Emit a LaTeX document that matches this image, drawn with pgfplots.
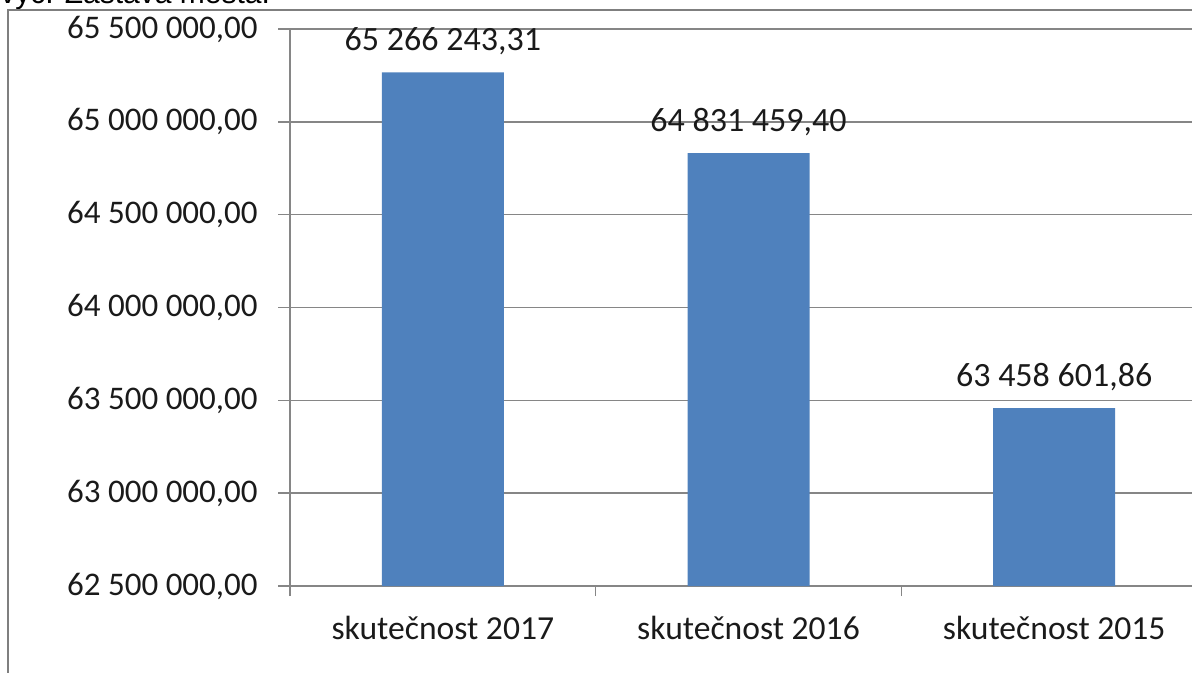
\documentclass[border=0pt]{standalone}
\usepackage{pgfplots}
\pgfplotsset{compat=1.18}
\usepackage{fontspec}
\setmainfont{Carlito}
\newfontfamily\arialfont{Liberation Sans}
\definecolor{barblue}{HTML}{4F81BD}
\definecolor{axgray}{HTML}{868686}
\definecolor{bordgray}{HTML}{7F7F7F}
\definecolor{txt}{HTML}{1A1A1A}
\begin{document}
\begin{tikzpicture}[x=1bp,y=1bp]
\useasboundingbox (0,0) rectangle (596,336);
\clip (0,0) rectangle (596,336);
\node[anchor=base west, inner sep=0, font=\arialfont\fontsize{15bp}{18bp}\selectfont] at (0,334.5) {vyč. Zástava města.};
\draw[color=bordgray, line width=1.3bp] (4,-10) -- (4,331) -- (800,331);
\begin{axis}[
  at={(145bp,43bp)}, anchor=south west, scale only axis,
  width=458.5bp, height=278.5bp,
  xmin=0, xmax=3, ymin=62500000, ymax=65500000,
  axis line style={color=axgray, line width=0.75bp},
  axis x line*=bottom, axis y line*=left,
  ymajorgrids, grid style={color=axgray, line width=0.75bp},
  ytick={62500000,63000000,63500000,64000000,64500000,65000000,65500000},
  yticklabels={{62 500 000,00},{63 000 000,00},{63 500 000,00},{64 000 000,00},{64 500 000,00},{65 000 000,00},{65 500 000,00}},
  xtick={0.5,1.5,2.5},
  xticklabels={{skutečnost 2017},{skutečnost 2016},{skutečnost 2015}},
  minor xtick={0,1,2,3},
  major x tick style={draw=none},
  tick align=outside,
  major tick length=6bp, minor tick length=5bp,
  tick style={color=axgray, line width=0.75bp},
  ticklabel style={text=txt},
  yticklabel style={font=\fontsize{16.5bp}{19bp}\selectfont, anchor=east, inner sep=0pt, xshift=-10bp},
  xticklabel style={font=\fontsize{16.8bp}{19bp}\selectfont, anchor=base, inner sep=0pt, yshift=-20.5bp},
  scaled y ticks=false,
  ybar, bar width=61bp,
  clip=false,
  point meta=explicit symbolic,
  nodes near coords,
  every node near coord/.append style={font=\fontsize{17bp}{20bp}\selectfont, text=txt, anchor=base, inner sep=0pt, yshift=11bp},
]
\addplot[fill=barblue, draw=none] coordinates {
  (0.5,65266243.31) [65 266 243,31]
  (1.5,64831459.40) [64 831 459,40]
  (2.5,63458601.86) [63 458 601,86]
};
\end{axis}
\end{tikzpicture}
\end{document}
